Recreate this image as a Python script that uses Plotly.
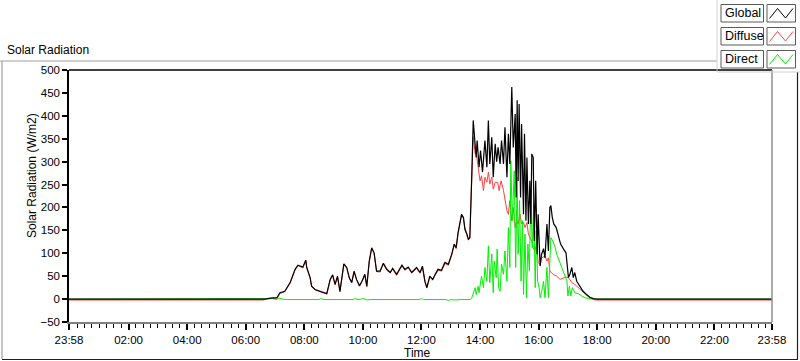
import plotly.graph_objects as go

# ---------------- data ----------------
GLOBAL_T = ["-00:02","06:39","06:50","07:04","07:10","07:20","07:31","07:41","07:47","07:57",
            "08:03","08:05","08:12","08:15","08:22","08:32","08:38","08:46","08:53","08:58",
            "09:03","09:08","09:13","09:17","09:21","09:27","09:32","09:37","09:42","09:47",
            "09:53","09:58","10:04","10:08","10:13","10:18","10:23","10:28","10:35","10:42",
            "10:49","10:56","11:01","11:09","11:20","11:26","11:33","11:40","11:50","11:57",
            "12:02","12:07","12:11","12:17","12:23","12:28","12:34","12:41","12:48","12:55",
            "13:02","13:07","13:11","13:15","13:22","13:26","13:29","13:33","13:36","13:39",
            "13:41","13:43","13:46","13:48","13:52","13:54","13:58","14:01","14:05","14:10",
            "14:14","14:17","14:20","14:24","14:27","14:31","14:34","14:37","14:41","14:44",
            "14:48","14:51","14:55","14:58","15:01","15:05","15:08","15:12","15:14","15:16",
            "15:18","15:20","15:23","15:25","15:29","15:31","15:34","15:36","15:39","15:42",
            "15:44","15:46","15:49","15:51","15:54","15:57","15:59","16:03","16:06","16:10",
            "16:13","16:17","16:20","16:23","16:25","16:28","16:31","16:36","16:40","16:45",
            "16:51","16:56","16:59","17:01","17:04","17:08","17:11","17:14","17:18","17:25",
            "17:31","17:38","17:45","17:52","17:59","23:58"]
GLOBAL_V = [0, 0, 2, 3, 14, 17, 36, 65, 74, 70,
            85, 69, 47, 28, 21, 17, 14, 12, 43, 53,
            32, 50, 17, 47, 77, 69, 47, 36, 61, 43,
            29, 39, 54, 28, 83, 112, 101, 61, 61, 78,
            65, 58, 67, 54, 74, 65, 70, 58, 69, 58,
            72, 39, 25, 50, 43, 54, 65, 63, 80, 76,
            98, 120, 112, 145, 185, 178, 153, 142, 131, 134,
            185, 269, 390, 361, 309, 346, 288, 324, 277, 346,
            288, 390, 295, 353, 266, 339, 300, 331, 295, 346,
            295, 375, 266, 361, 295, 463, 331, 404, 222, 434,
            258, 426, 222, 382, 185, 361, 171, 309, 164, 258,
            164, 317, 309, 127, 258, 98, 185, 72, 98, 110,
            90, 164, 105, 200, 204, 178, 164, 156, 142, 120,
            109, 101, 69, 47, 54, 69, 47, 58, 39, 28,
            17, 10, 4, 1, 0, 0]

DIFFUSE_T = ["-00:02","06:38","06:39","06:50","07:04","07:10","07:20","07:31","07:41","07:47",
             "07:57","08:03","08:05","08:12","08:15","08:22","08:32","08:38","08:46","08:53",
             "08:58","09:03","09:08","09:13","09:17","09:21","09:27","09:32","09:37","09:42",
             "09:47","09:53","09:58","10:04","10:08","10:13","10:18","10:23","10:28","10:35",
             "10:42","10:49","10:56","11:01","11:09","11:20","11:26","11:33","11:40","11:50",
             "11:57","12:02","12:07","12:11","12:17","12:23","12:28","12:34","12:41","12:48",
             "12:55","13:02","13:07","13:11","13:15","13:22","13:26","13:29","13:33","13:36",
             "13:39","13:41","13:43","13:46","13:50","13:52","13:56","14:00","14:03","14:07",
             "14:10","14:14","14:17","14:20","14:24","14:27","14:31","14:36","14:39","14:43",
             "14:48","14:51","14:55","14:58","15:01","15:05","15:08","15:12","15:15","15:18",
             "15:22","15:25","15:29","15:32","15:36","15:39","15:42","15:46","15:49","15:52",
             "15:56","15:59","16:03","16:06","16:13","16:17","16:20","16:23","16:30","16:37",
             "16:44","16:51","16:56","17:01","17:08","17:14","17:21","17:28","17:38","17:45",
             "17:52","17:56","23:58"]
DIFFUSE_V = [-2, -2, 0, 1, 2, 12, 16, 35, 63, 73,
             68, 84, 67, 45, 27, 20, 16, 13, 11, 41,
             52, 31, 48, 16, 45, 76, 67, 46, 35, 59,
             42, 28, 38, 52, 27, 81, 111, 99, 60, 59,
             77, 63, 57, 66, 52, 73, 63, 68, 57, 67,
             56, 70, 38, 24, 48, 42, 52, 63, 61, 78,
             74, 96, 118, 110, 143, 183, 176, 151, 140, 129,
             132, 183, 262, 355, 317, 320, 288, 258, 269, 237,
             266, 255, 277, 251, 266, 240, 255, 255, 237, 258,
             237, 218, 193, 185, 215, 171, 200, 156, 171, 164,
             185, 164, 167, 156, 167, 142, 134, 127, 112, 105,
             120, 80, 75, 90, 94, 83, 90, 61, 54, 50,
             43, 47, 48, 47, 36, 32, 25, 17, 7, 2,
             -1, -2, -2]

DIRECT_T = ["-00:02","06:50","06:55","07:02","07:08","07:15","07:25","08:30","08:34","08:40",
            "09:40","09:44","09:50","10:02","10:08","10:15","11:55","12:00","12:04","12:50",
            "12:55","13:00","13:10","13:20","13:40","13:43","13:46","13:50","13:52","13:56",
            "13:58","14:03","14:07","14:10","14:14","14:17","14:20","14:24","14:27","14:29",
            "14:33","14:35","14:38","14:41","14:44","14:48","14:51","14:55","14:58","15:01",
            "15:03","15:06","15:10","15:13","15:16","15:18","15:21","15:24","15:27","15:29",
            "15:32","15:35","15:38","15:41","15:44","15:47","15:50","15:53","15:55","15:58",
            "16:01","16:03","16:08","16:10","16:13","16:17","16:20","16:23","16:25","16:29",
            "16:34","16:37","16:40","16:45","16:51","16:54","16:58","17:00","17:03","17:06",
            "17:09","17:14","17:21","17:28","17:35","17:42","17:52","23:58"]
DIRECT_V = [0, 0, 1, -1, 2, 0, -1, -1, 1, -1,
            -1, 1, -1, 1, -2, -1, -1, 1, -1, -1,
            -3, -1, -2, -1, -1, 3, 14, 25, 10, 28,
            14, 50, 25, 69, 39, 116, 36, 98, 14, 83,
            47, 109, 25, 17, 76, 54, 105, 39, 156, 69,
            302, 171, 280, 69, 266, 98, 215, 39, 171, 10,
            142, 3, 120, 61, 237, 112, 207, 25, 149, 39,
            25, 3, 25, 39, 3, 69, 3, 76, 134, 127,
            112, 98, 90, 76, 61, 54, 39, 7, 28, 7,
            25, 14, 12, 7, 3, 1, 0, 0]

TICK_VALS = ["-00:02","02:00","04:00","06:00","08:00","10:00","12:00","14:00",
             "16:00","18:00","20:00","22:00","23:58"]
TICK_TEXT = ["23:58","02:00","04:00","06:00","08:00","10:00","12:00","14:00",
             "16:00","18:00","20:00","22:00","23:58"]
Y_TICKS = [-50, 0, 50, 100, 150, 200, 250, 300, 350, 400, 450, 500]


def to_min(s):
    neg = s.startswith("-")
    h, m = s.lstrip("-").split(":")
    v = int(h) * 60 + int(m)
    return -v if neg else v


assert len(GLOBAL_T) == len(GLOBAL_V)
assert len(DIFFUSE_T) == len(DIFFUSE_V)
assert len(DIRECT_T) == len(DIRECT_V)

# ---------------- layout geometry ----------------
W, H = 800, 361
L, R, T, B = 69, 772, 70, 322
FONT = "Liberation Sans"


def px(x):
    return (x - L) / (R - L)


def py(y):
    return (B - y) / (B - T)


fig = go.Figure()
fig.add_trace(go.Scatter(x=[to_min(t) for t in DIFFUSE_T], y=DIFFUSE_V, mode="lines",
                         name="Diffuse", line=dict(color="#ff4040", width=1), showlegend=False))
fig.add_trace(go.Scatter(x=[to_min(t) for t in DIRECT_T], y=DIRECT_V, mode="lines",
                         name="Direct", line=dict(color="#00f000", width=1), showlegend=False))
fig.add_trace(go.Scatter(x=[to_min(t) for t in GLOBAL_T], y=GLOBAL_V, mode="lines",
                         name="Global", line=dict(color="#000000", width=1.2), showlegend=False))

shapes = []
# plot area border (sunken look)
shapes.append(dict(type="line", xref="paper", yref="paper", x0=0, x1=1, y0=1, y1=1,
                   line=dict(color="#000000", width=1.5)))
shapes.append(dict(type="line", xref="paper", yref="paper", x0=1, x1=1, y0=0, y1=1,
                   line=dict(color="#909090", width=1.5)))
# outer frame
shapes.append(dict(type="line", xref="paper", yref="paper", x0=px(0), x1=px(717), y0=py(61), y1=py(61),
                   line=dict(color="#a0a0a0", width=1.2)))
shapes.append(dict(type="line", xref="paper", yref="paper", x0=px(2), x1=px(2), y0=py(61), y1=py(359),
                   line=dict(color="#a0a0a0", width=1.2)))
shapes.append(dict(type="line", xref="paper", yref="paper", x0=px(2), x1=px(798), y0=py(359.5), y1=py(359.5),
                   line=dict(color="#202020", width=1.2)))
shapes.append(dict(type="line", xref="paper", yref="paper", x0=px(797.5), x1=px(797.5), y0=py(72), y1=py(359.5),
                   line=dict(color="#202020", width=1.2)))
# legend panel border
shapes.append(dict(type="line", xref="paper", yref="paper", x0=px(717), x1=px(717), y0=py(0), y1=py(72),
                   line=dict(color="#d0d0d0", width=1)))
shapes.append(dict(type="line", xref="paper", yref="paper", x0=px(717), x1=px(800), y0=py(72), y1=py(72),
                   line=dict(color="#d0d0d0", width=1)))

annotations = []
LEG = [("Global", "#000000"), ("Diffuse", "#ff4040"), ("Direct", "#00f000")]
for i, (name, col) in enumerate(LEG):
    top = 4.5 + 23 * i
    bot = top + 17.5
    shapes.append(dict(type="rect", xref="paper", yref="paper", x0=px(721), x1=px(763.5),
                       y0=py(bot), y1=py(top), line=dict(color="#5a5a5a", width=1), fillcolor="white"))
    shapes.append(dict(type="rect", xref="paper", yref="paper", x0=px(767), x1=px(795.5),
                       y0=py(bot), y1=py(top), line=dict(color="#5a5a5a", width=1), fillcolor="white"))
    zz = [(769.5, bot - 3.5), (777.5, top + 4), (785.5, bot - 4), (793, top + 4)]
    path = "M " + " L ".join(f"{px(a)},{py(b)}" for a, b in zz)
    shapes.append(dict(type="path", xref="paper", yref="paper", path=path,
                       line=dict(color=col, width=1)))
    annotations.append(dict(text=name, xref="paper", yref="paper", x=px(723), y=py((top + bot) / 2),
                            xanchor="left", yanchor="middle", showarrow=False,
                            font=dict(family=FONT, size=12.5, color="#000000")))

annotations.append(dict(text="Solar Radiation", xref="paper", yref="paper", x=px(5), y=py(50),
                        xanchor="left", yanchor="middle", showarrow=False,
                        font=dict(family=FONT, size=12, color="#000000")))
annotations.append(dict(text="Solar Radiation (W/m2)", xref="paper", yref="paper", x=px(32), y=py(176),
                        xanchor="center", yanchor="middle", showarrow=False, textangle=-90,
                        font=dict(family=FONT, size=12, color="#000000")))
annotations.append(dict(text="Time", xref="paper", yref="paper", x=px(417), y=py(353),
                        xanchor="center", yanchor="middle", showarrow=False,
                        font=dict(family=FONT, size=12, color="#000000")))

fig.update_layout(
    width=W, height=H,
    margin=dict(l=L, r=W - R, t=T, b=H - B, pad=0),
    paper_bgcolor="white", plot_bgcolor="white",
    shapes=shapes, annotations=annotations,
    xaxis=dict(range=[to_min("-00:02"), to_min("23:58")], tickmode="array",
               tickvals=[to_min(t) for t in TICK_VALS], ticktext=TICK_TEXT,
               showgrid=False, zeroline=False, showline=True, linecolor="#808080", linewidth=1.5,
               ticks="outside", ticklen=6, tickcolor="#000000", tickwidth=1.5,
               minor=dict(tickmode="array", tickvals=list(range(0, 1440, 15)), ticks="outside",
                          ticklen=4, tickcolor="#000000", tickwidth=1, showgrid=False),
               tickfont=dict(family=FONT, size=11.5, color="#000000")),
    yaxis=dict(range=[-50, 500], tickmode="array", tickvals=Y_TICKS,
               showgrid=False, zeroline=False, showline=True, linecolor="#000000", linewidth=1.5,
               ticks="outside", ticklen=5, tickcolor="#000000", tickwidth=1.5,
               tickfont=dict(family=FONT, size=11.5, color="#000000")),
    font=dict(family=FONT),
)

fig.write_html("out.html", config={"displayModeBar": False},
               post_script="document.body.style.margin='0px';document.body.style.overflow='hidden';")
